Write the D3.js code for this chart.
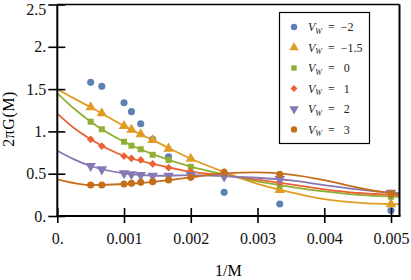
<!DOCTYPE html>
<html>
<head>
<meta charset="utf-8">
<script src="https://cdn.jsdelivr.net/npm/d3@7"></script>
<style>
  body { margin: 0; background: #fff; }
  text { font-family: "Liberation Serif", "DejaVu Serif", serif; }
</style>
</head>
<body>
<div class="chart"></div>
<script>
// 1/M values of the measured points
const invM = [0.0005, 0.000667, 0.001, 0.001111, 0.00125, 0.001429, 0.001667, 0.002, 0.0025, 0.003333, 0.005];

const vwLabels = ["\u22122", "\u22121.5", "0", "1", "2", "3"];

// measured 2πG(M), one array per V_W
const gMinus2  = [1.58, 1.533, 1.339, 1.233, 1.091, 0.907, 0.701, 0.50, 0.28, 0.142, 0.065];
const gMinus15 = [1.285, 1.214, 1.064, 1.02, 0.966, 0.898, 0.796, 0.677, 0.50, 0.307, 0.138];
const g0       = [1.115, 1.025, 0.878, 0.831, 0.788, 0.725, 0.662, 0.583, 0.49, 0.358, 0.228];
const g1       = [0.907, 0.827, 0.709, 0.682, 0.662, 0.615, 0.571, 0.524, 0.48, 0.394, 0.248];
const g2       = [0.591, 0.552, 0.505, 0.493, 0.485, 0.476, 0.476, 0.485, 0.468, 0.437, 0.275];
const g3       = [0.366, 0.366, 0.378, 0.386, 0.398, 0.406, 0.425, 0.457, 0.516, 0.493, 0.268];

// fitted curves, read off at these 1/M values (no fit for V_W = -2)
const fitX      = [0, 0.00025, 0.0005, 0.001, 0.0015, 0.002, 0.0025, 0.003, 0.0035, 0.004, 0.0045, 0.005, 0.00513];
const fitMinus15 = [1.50, 1.39, 1.285, 1.064, 0.87, 0.677, 0.52, 0.38, 0.28, 0.20, 0.157, 0.14, 0.14];
const fit0       = [1.45, 1.27, 1.115, 0.878, 0.71, 0.583, 0.49, 0.41, 0.345, 0.29, 0.25, 0.23, 0.225];
const fit1       = [1.21, 1.04, 0.907, 0.709, 0.605, 0.524, 0.48, 0.43, 0.375, 0.315, 0.272, 0.25, 0.245];
const fit2       = [0.772, 0.67, 0.591, 0.505, 0.476, 0.482, 0.47, 0.452, 0.42, 0.366, 0.315, 0.277, 0.27];
const fit3       = [0.434, 0.39, 0.366, 0.378, 0.41, 0.457, 0.505, 0.516, 0.49, 0.425, 0.335, 0.268, 0.258];

const xTicks = [0, 0.001, 0.002, 0.003, 0.004, 0.005];
const xTickLabels = ["0.", "0.001", "0.002", "0.003", "0.004", "0.005"];
const yTicks = [0, 0.5, 1, 1.5, 2, 2.5];
const yTickLabels = ["0.", "0.5", "1.", "1.5", "2.", "2.5"];

const colors = ["#5E81B5", "#E19C24", "#8FB032", "#EB6235", "#8778B3", "#C56E1A"];
const pointSets = [gMinus2, gMinus15, g0, g1, g2, g3];
const fitSets = [null, fitMinus15, fit0, fit1, fit2, fit3];

const W = 411, H = 280;
const pL = 57.3, pR = 399.5, pT = 4.5, pB = 216;

const svg = d3.select('.chart').append('svg')
    .attr("width", W)
    .attr("height", H);

const xScale = d3.scaleLinear().domain([0, 0.005]).range([pL, 391]);
const yScale = d3.scaleLinear().domain([0, 2.5]).range([pB, pT]);

// symbols: circle, triangle, square, diamond, down triangle, circle
const symbols = [
  {type: d3.symbolCircle, size: 40, rot: 0},
  {type: d3.symbolTriangle, size: 48, rot: 0},
  {type: d3.symbolSquare, size: 36, rot: 0},
  {type: d3.symbolSquare, size: 30, rot: 45},
  {type: d3.symbolTriangle, size: 48, rot: 180},
  {type: d3.symbolCircle, size: 40, rot: 0}
];

svg.append("clipPath").attr("id", "plotclip")
  .append("rect")
  .attr("x", pL).attr("y", pT)
  .attr("width", pR - pL).attr("height", pB - pT);

const plot = svg.append("g").attr("clip-path", "url(#plotclip)");

const line = d3.line()
    .x(d => xScale(d[0]))
    .y(d => yScale(d[1]))
    .curve(d3.curveMonotoneX);

fitSets.forEach((fit, i) => {
  if (!fit) return;
  plot.append("path")
    .attr("d", line(fitX.map((x, j) => [x, fit[j]])))
    .attr("fill", "none")
    .attr("stroke", colors[i])
    .attr("stroke-width", 1.8);
});

pointSets.forEach((vals, i) => {
  const s = symbols[i];
  plot.selectAll(".pt" + i)
    .data(vals.map((v, j) => [invM[j], v]))
    .enter()
    .append("path")
    .attr("class", "pt" + i)
    .attr("d", d3.symbol().type(s.type).size(s.size))
    .attr("fill", colors[i])
    .attr("transform", d => `translate(${xScale(d[0])},${yScale(d[1])}) rotate(${s.rot})`);
});

// frame
svg.append("line").attr("x1", pL).attr("x2", pR).attr("y1", pT).attr("y2", pT)
  .attr("stroke", "#000").attr("stroke-width", 1.5);
svg.append("line").attr("x1", pR).attr("x2", pR).attr("y1", pT).attr("y2", pB)
  .attr("stroke", "#000").attr("stroke-width", 2);

// axes with ticks crossing the axis line
const xAxis = d3.axisBottom(xScale).tickValues(xTicks)
    .tickFormat((d, i) => xTickLabels[i])
    .tickSizeInner(8).tickSizeOuter(0).tickPadding(9);
const yAxis = d3.axisLeft(yScale).tickValues(yTicks)
    .tickFormat((d, i) => yTickLabels[i])
    .tickSizeInner(8).tickSizeOuter(0).tickPadding(3);

const gx = svg.append("g").attr("transform", `translate(0,${pB})`).call(xAxis);
const gy = svg.append("g").attr("transform", `translate(${pL},0)`).call(yAxis);

[gx, gy].forEach(g => {
  g.select(".domain").remove();
  g.selectAll(".tick text").attr("font-size", "16px").attr("fill", "#111")
    .attr("font-family", "Liberation Serif");
  g.selectAll(".tick line").attr("stroke-width", 1.6);
});
gx.selectAll(".tick line").attr("y1", -8).attr("y2", 7);
gy.selectAll(".tick line").attr("x1", 8).attr("x2", -9);
// keep the top label inside the picture
gy.selectAll(".tick text").filter(d => d === 2.5).attr("dy", "0.6em");

svg.append("line").attr("x1", pL - 1).attr("x2", pR + 1).attr("y1", pB).attr("y2", pB)
  .attr("stroke", "#000").attr("stroke-width", 2);
svg.append("line").attr("x1", pL).attr("x2", pL).attr("y1", pT).attr("y2", pB)
  .attr("stroke", "#000").attr("stroke-width", 2);

// axis titles
svg.append("text")
  .attr("x", (pL + pR) / 2)
  .attr("y", 276)
  .attr("text-anchor", "middle")
  .attr("font-size", "16px")
  .text("1/M");

svg.append("text")
  .attr("transform", "translate(14,119) rotate(-90)")
  .attr("text-anchor", "middle")
  .attr("font-size", "16px")
  .attr("letter-spacing", "0.5px")
  .text("2\u03c0G(M)");

// legend
const lg = svg.append("g");
lg.append("rect")
  .attr("x", 279.5).attr("y", 12.5)
  .attr("width", 90).attr("height", 131)
  .attr("fill", "#fff").attr("stroke", "#000").attr("stroke-width", 1.2);

vwLabels.forEach((lab, i) => {
  const y = 27 + i * 20.5;
  const s = symbols[i];
  lg.append("path")
    .attr("d", d3.symbol().type(s.type).size(s.size * 0.8))
    .attr("fill", colors[i])
    .attr("transform", `translate(294,${y}) rotate(${s.rot})`);
  const t = lg.append("text")
    .attr("x", 308).attr("y", y + 4)
    .attr("font-size", "12px")
    .attr("fill", "#222")
    .attr("xml:space", "preserve")
    .style("white-space", "pre");
  t.append("tspan").attr("font-style", "italic").text("V");
  t.append("tspan").attr("font-style", "italic").attr("font-size", "8px").attr("dy", 2.5).text("W");
  t.append("tspan").attr("dy", -2.5).text(lab.startsWith("\u2212") ? "  =  " + lab : "  =   " + lab);
});
</script>
</body>
</html>
